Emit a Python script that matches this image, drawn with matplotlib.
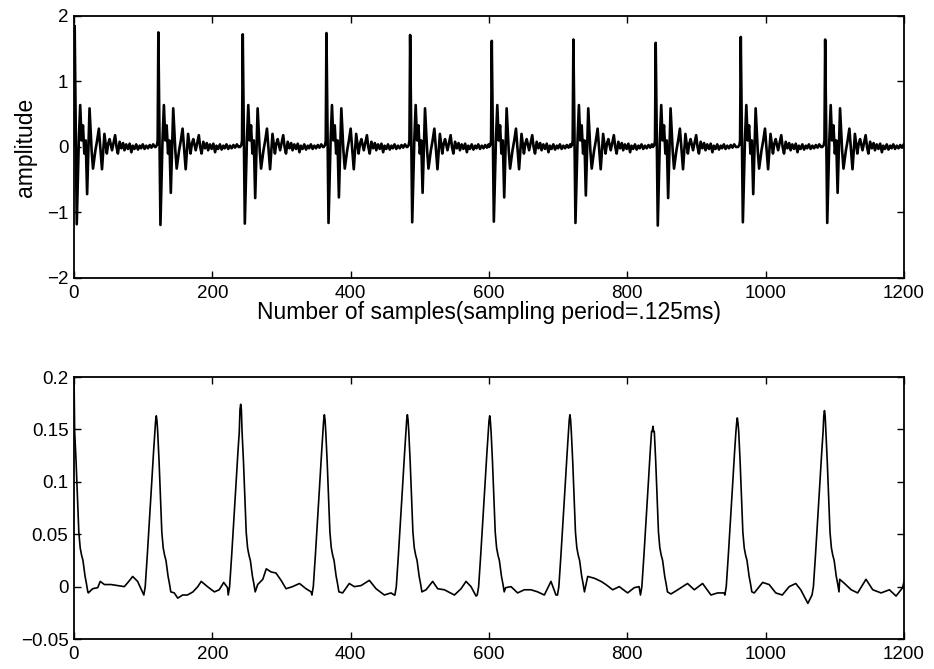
import numpy as np
import matplotlib.pyplot as plt
from matplotlib.ticker import FixedLocator, FixedFormatter

plt.rcParams['font.family'] = ['Liberation Sans', 'DejaVu Sans']

# ---- top trace: spike train with ringing ----
top_pos = [1, 122, 244, 365, 486, 604, 722, 841, 964, 1086]
top_peak = [1.85, 1.75, 1.72, 1.74, 1.71, 1.62, 1.64, 1.59, 1.68, 1.64]
top_trough = [-1.18, -1.19, -1.17, -1.16, -1.15, -1.14, -1.16, -1.2, -1.15, -1.16]
top_trough2 = [-0.72, -0.7, -0.78, -0.77, -0.7, -0.77, -0.74, -0.78, -0.72, -0.7]

ring_off = [-4, -2, -1, 6, 8, 10, 12, 14, 16, 21.5, 24.5, 26.5, 30, 32.5, 35, 37, 39.5,
            43, 46.5, 48.5, 50.5, 54, 56, 58.5, 60.5, 62.5, 65, 67.5, 70, 72, 74.5, 77,
            79.5, 82, 84, 86.5, 89, 91.5, 94, 96, 98.5, 101, 103.5, 106, 108.5, 111,
            113.5, 116]
ring_val = [0.0, 0.03, 0.1, 0.1, 0.64, 0.1, 0.33, -0.1, 0.1, 0.59, -0.05, -0.33, -0.05,
            0.1, 0.28, 0.0, -0.34, 0.2, -0.1, 0.05, 0.12, -0.05, 0.05, 0.18, 0.0, -0.1,
            0.08, -0.02, 0.06, -0.05, 0.04, -0.03, 0.05, -0.08, 0.02, -0.03, 0.04, -0.04,
            0.02, -0.02, 0.04, -0.03, 0.02, -0.02, 0.03, -0.01, 0.04, 0.0]

# ---- bottom trace: smoothed pulses ----
bot_pos = [-1, 119, 241, 362, 482, 601, 717, 837, 959, 1085]
bot_peak = [0.21, 0.163, 0.174, 0.164, 0.164, 0.163, 0.164, 0.153, 0.161, 0.168]

bump_off = [-18, -16, -13, -10, -7, -4, -2, -1, 1, 2, 4, 6, 8, 10, 12, 14, 17, 19, 21]
bump_val = [-0.008, 0.0, 0.03, 0.062, 0.095, 0.128, 0.148, None, None, 0.148, 0.12,
            0.085, 0.052, 0.037, 0.03, 0.025, 0.01, 0.003, -0.005]

base_x = [20.8, 27, 34.3, 38, 44, 53.6, 63, 72.8, 78, 84.9, 92,
          145, 150, 157, 164, 172, 179, 184, 193, 203, 210, 216.5, 222,
          265.6, 273, 278, 285, 292, 299.4, 306.6, 316, 326, 335.5, 342.8,
          388.4, 398, 405.3, 415, 427, 436.7, 448.7, 458.4, 463,
          509, 518.6, 525.8, 535.5, 550, 559.6, 566.8, 574, 581.3,
          624, 631.8, 641.4, 651, 660.7, 670.3, 680, 689.6, 696.8,
          742.7, 752.3, 762, 769, 778.8, 788.3, 800.4, 810, 817,
          863, 872.9, 887, 896.8, 908.8, 920.9, 930.5, 940,
          983.5, 995.6, 1005, 1014.6, 1024, 1034, 1043.5, 1050.7, 1061,
          1107, 1114, 1123.6, 1133, 1145, 1154.8, 1166.8, 1178.9, 1188.5, 1198, 1200]
base_y = [-0.006, -0.002, -0.001, 0.005, 0.002, 0.002, 0.001, 0.0, 0.004, 0.0097, 0.005,
          -0.006, -0.011, -0.008, -0.008, -0.005, 0.0, 0.005, 0.0, -0.005, -0.003, 0.004, -0.001,
          0.002, 0.007, 0.017, 0.014, 0.013, 0.006, -0.002, 0.0, 0.003, -0.002, -0.005,
          -0.006, 0.003, 0.0, 0.001, 0.006, -0.002, -0.008, -0.006, -0.008,
          -0.003, 0.005, -0.002, -0.003, -0.008, -0.002, 0.005, 0.0, -0.009,
          -0.001, 0.0, -0.006, -0.003, -0.003, -0.005, -0.008, 0.005, -0.008,
          0.0097, 0.008, 0.005, 0.002, -0.003, 0.0, -0.006, -0.001, 0.0,
          -0.007, -0.003, 0.003, -0.003, 0.003, -0.008, -0.006, -0.006,
          -0.006, 0.004, 0.002, -0.006, -0.008, 0.0, 0.003, -0.003, -0.016,
          0.007, 0.003, -0.003, -0.006, 0.007, -0.003, -0.006, -0.003, -0.009, -0.001, 0.005]

# assemble top
tx, ty = [], []
for i, p in enumerate(top_pos):
    nxt = top_pos[i + 1] if i + 1 < len(top_pos) else 1300
    pts = list(zip(ring_off, ring_val)) + [(0, top_peak[i]), (3, top_trough[i]), (18, top_trough2[i])]
    for o, v in sorted(pts):
        if p + o < nxt - 4:
            tx.append(p + o)
            ty.append(v)

# assemble bottom
pts = []
for p, h in zip(bot_pos, bot_peak):
    for o, v in zip(bump_off, bump_val):
        pts.append((p + o, h - 0.005 if v is None else v))
    pts.append((p, h))
for x, y in zip(base_x, base_y):
    if all(not (p - 18 <= x <= p + 21) for p in bot_pos):
        pts.append((x, y))
pts.sort()
bx = [a for a, b in pts]
by = [b for a, b in pts]

fig = plt.figure(figsize=(9.34, 6.69), dpi=100)
ax1 = fig.add_axes([0.0792, 0.5845, 0.8887, 0.3916])
ax2 = fig.add_axes([0.0792, 0.0448, 0.8887, 0.3916])

ax1.plot(tx, ty, color='black', lw=1.9, solid_joinstyle='round')
ax2.plot(bx, by, color='black', lw=1.2, solid_joinstyle='round')

for ax in (ax1, ax2):
    ax.set_xlim(0, 1200)
    ax.xaxis.set_major_locator(FixedLocator([0, 200, 400, 600, 800, 1000, 1200]))
    ax.tick_params(direction='in', top=True, right=True, length=5, width=1,
                   labelsize=13.5)
    ax.tick_params(axis='x', pad=5)
    ax.tick_params(axis='y', pad=4)
    for s in ax.spines.values():
        s.set_linewidth(1.3)

ax1.set_ylim(-2, 2)
ax1.yaxis.set_major_locator(FixedLocator([-2, -1, 0, 1, 2]))
ax1.set_ylabel('amplitude', fontsize=16.5, labelpad=7)
ax1.set_xlabel('Number of samples(sampling period=.125ms)', fontsize=16.5, labelpad=-1)

ax2.set_ylim(-0.05, 0.2)
ax2.yaxis.set_major_locator(FixedLocator([-0.05, 0, 0.05, 0.1, 0.15, 0.2]))
ax2.yaxis.set_major_formatter(FixedFormatter(['\u22120.05', '0', '0.05', '0.1', '0.15', '0.2']))

fig.savefig('out.png', dpi=100)
